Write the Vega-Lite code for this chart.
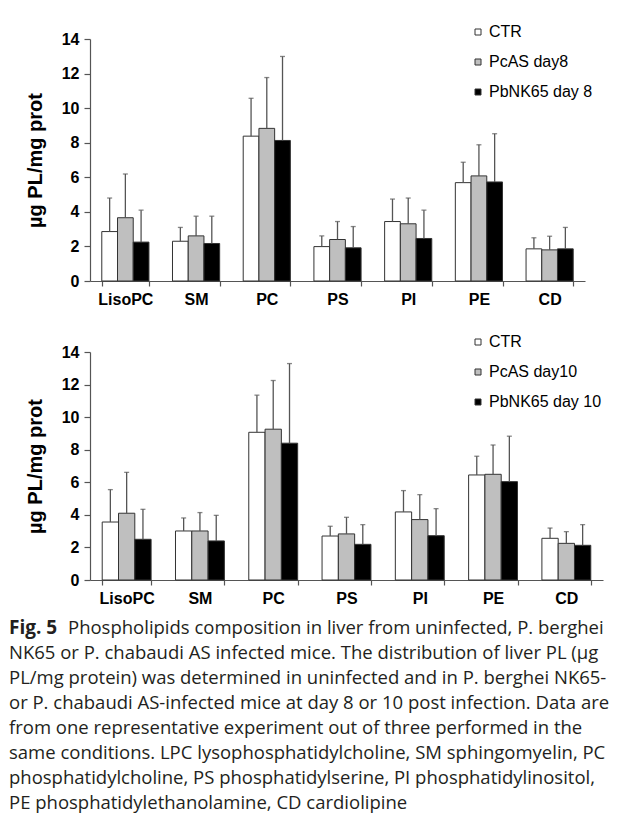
{
  "$schema": "https://vega.github.io/schema/vega-lite/v6.json",
  "background": "white",
  "padding": {"left": 9, "top": 24, "right": 2, "bottom": 4},
  "spacing": 9,
  "config": {
    "view": {"stroke": null},
    "font": "Liberation Sans",
    "axis": {
      "grid": false,
      "domainColor": "#555555",
      "tickColor": "#555555",
      "domainWidth": 1.2,
      "tickWidth": 1.2,
      "labelColor": "#000000",
      "labelFont": "Liberation Sans",
      "labelFontWeight": "bold",
      "labelFontSize": 16,
      "labelOverlap": false,
      "titleFont": "Liberation Sans",
      "titleFontWeight": "bold",
      "titleFontSize": 20,
      "titleColor": "#000000"
    },
    "legend": {
      "orient": "none",
      "title": null,
      "padding": 0,
      "symbolType": "square",
      "symbolSize": 36,
      "symbolStrokeColor": "#333333",
      "symbolStrokeWidth": 1,
      "labelFont": "Liberation Sans",
      "labelFontSize": 16,
      "labelColor": "#000000",
      "labelOffset": 3,
      "rowPadding": 14
    }
  },
  "datasets": {
    "d8": [
      {"lipid": "LisoPC", "group": "CTR", "mean": 2.86, "upper": 4.80},
      {"lipid": "LisoPC", "group": "PcAS day8", "mean": 3.66, "upper": 6.19},
      {"lipid": "LisoPC", "group": "PbNK65 day 8", "mean": 2.25, "upper": 4.10},
      {"lipid": "SM", "group": "CTR", "mean": 2.30, "upper": 3.10},
      {"lipid": "SM", "group": "PcAS day8", "mean": 2.61, "upper": 3.75},
      {"lipid": "SM", "group": "PbNK65 day 8", "mean": 2.17, "upper": 3.75},
      {"lipid": "PC", "group": "CTR", "mean": 8.38, "upper": 10.57},
      {"lipid": "PC", "group": "PcAS day8", "mean": 8.83, "upper": 11.77},
      {"lipid": "PC", "group": "PbNK65 day 8", "mean": 8.13, "upper": 12.99},
      {"lipid": "PS", "group": "CTR", "mean": 1.99, "upper": 2.61},
      {"lipid": "PS", "group": "PcAS day8", "mean": 2.40, "upper": 3.44},
      {"lipid": "PS", "group": "PbNK65 day 8", "mean": 1.92, "upper": 3.15},
      {"lipid": "PI", "group": "CTR", "mean": 3.44, "upper": 4.74},
      {"lipid": "PI", "group": "PcAS day8", "mean": 3.31, "upper": 4.80},
      {"lipid": "PI", "group": "PbNK65 day 8", "mean": 2.46, "upper": 4.10},
      {"lipid": "PE", "group": "CTR", "mean": 5.69, "upper": 6.87},
      {"lipid": "PE", "group": "PcAS day8", "mean": 6.08, "upper": 7.88},
      {"lipid": "PE", "group": "PbNK65 day 8", "mean": 5.73, "upper": 8.52},
      {"lipid": "CD", "group": "CTR", "mean": 1.86, "upper": 2.50},
      {"lipid": "CD", "group": "PcAS day8", "mean": 1.80, "upper": 2.59},
      {"lipid": "CD", "group": "PbNK65 day 8", "mean": 1.86, "upper": 3.10}
    ],
    "d10": [
      {"lipid": "LisoPC", "group": "CTR", "mean": 3.56, "upper": 5.55},
      {"lipid": "LisoPC", "group": "PcAS day10", "mean": 4.10, "upper": 6.61},
      {"lipid": "LisoPC", "group": "PbNK65 day 10", "mean": 2.50, "upper": 4.34},
      {"lipid": "SM", "group": "CTR", "mean": 3.01, "upper": 3.81},
      {"lipid": "SM", "group": "PcAS day10", "mean": 3.01, "upper": 4.14},
      {"lipid": "SM", "group": "PbNK65 day 10", "mean": 2.40, "upper": 3.97},
      {"lipid": "PC", "group": "CTR", "mean": 9.07, "upper": 11.35},
      {"lipid": "PC", "group": "PcAS day10", "mean": 9.26, "upper": 12.25},
      {"lipid": "PC", "group": "PbNK65 day 10", "mean": 8.40, "upper": 13.29},
      {"lipid": "PS", "group": "CTR", "mean": 2.70, "upper": 3.30},
      {"lipid": "PS", "group": "PcAS day10", "mean": 2.83, "upper": 3.85},
      {"lipid": "PS", "group": "PbNK65 day 10", "mean": 2.19, "upper": 3.40},
      {"lipid": "PI", "group": "CTR", "mean": 4.18, "upper": 5.49},
      {"lipid": "PI", "group": "PcAS day10", "mean": 3.71, "upper": 5.24},
      {"lipid": "PI", "group": "PbNK65 day 10", "mean": 2.72, "upper": 4.38},
      {"lipid": "PE", "group": "CTR", "mean": 6.45, "upper": 7.60},
      {"lipid": "PE", "group": "PcAS day10", "mean": 6.49, "upper": 8.29},
      {"lipid": "PE", "group": "PbNK65 day 10", "mean": 6.04, "upper": 8.83},
      {"lipid": "CD", "group": "CTR", "mean": 2.56, "upper": 3.19},
      {"lipid": "CD", "group": "PcAS day10", "mean": 2.25, "upper": 2.97},
      {"lipid": "CD", "group": "PbNK65 day 10", "mean": 2.13, "upper": 3.40}
    ],
    "caption": [
      {"line": 1, "text": "Phospholipids composition in liver from uninfected, P. berghei"},
      {"line": 2, "text": "NK65 or P. chabaudi AS infected mice. The distribution of liver PL (µg"},
      {"line": 3, "text": "PL/mg protein) was determined in uninfected and in P. berghei NK65-"},
      {"line": 4, "text": "or P. chabaudi AS-infected mice at day 8 or 10 post infection. Data are"},
      {"line": 5, "text": "from one representative experiment out of three performed in the"},
      {"line": 6, "text": "same conditions. LPC lysophosphatidylcholine, SM sphingomyelin, PC"},
      {"line": 7, "text": "phosphatidylcholine, PS phosphatidylserine, PI phosphatidylinositol,"},
      {"line": 8, "text": "PE phosphatidylethanolamine, CD cardiolipine"}
    ],
    "lead": [
      {"line": 1, "text": "Fig. 5"}
    ]
  },
  "vconcat": [
    {
      "spacing": 27,
      "resolve": {"scale": {"x": "independent", "xOffset": "independent", "y": "independent", "fill": "independent"}, "legend": {"fill": "independent"}, "axis": {"x": "independent", "y": "independent"}},
      "vconcat": [
        {
          "width": 495,
          "height": 242,
          "data": {"name": "d8"},
          "encoding": {
            "x": {"field": "lipid", "type": "nominal", "sort": ["LisoPC", "SM", "PC", "PS", "PI", "PE", "CD"], "scale": {"paddingInner": 0.333, "paddingOuter": 0.1667}, "axis": {"title": null, "labelAngle": 0, "tickBand": "extent", "tickSize": 5, "labelPadding": 5, "labelFontSize": 16}},
            "xOffset": {"field": "group", "type": "nominal", "sort": ["CTR", "PcAS day8", "PbNK65 day 8"], "scale": {"paddingInner": 0, "paddingOuter": 0}}
          },
          "layer": [
            {
              "mark": {"type": "bar", "stroke": "#333333", "strokeWidth": 1},
              "encoding": {
                "y": {"field": "mean", "type": "quantitative", "title": "µg PL/mg prot", "scale": {"domain": [0, 14], "nice": false}, "axis": {"values": [0, 2, 4, 6, 8, 10, 12, 14], "tickSize": 6, "labelPadding": 5, "titlePadding": 16}},
                "fill": {"field": "group", "type": "nominal", "sort": ["CTR", "PcAS day8", "PbNK65 day 8"], "scale": {"domain": ["CTR", "PcAS day8", "PbNK65 day 8"], "range": ["#ffffff", "#bfbfbf", "#000000"]}, "legend": {"legendX": 380, "legendY": -15}}
              }
            },
            {
              "mark": {"type": "rule", "color": "#555555", "strokeWidth": 1.3},
              "encoding": {
                "y": {"field": "mean", "type": "quantitative", "title": "µg PL/mg prot", "axis": {"values": [0, 2, 4, 6, 8, 10, 12, 14], "tickSize": 6, "labelPadding": 5, "titlePadding": 16}},
                "y2": {"field": "upper"}
              }
            },
            {
              "mark": {"type": "tick", "color": "#555555", "thickness": 1.3, "size": 5},
              "encoding": {
                "y": {"field": "upper", "type": "quantitative", "title": "µg PL/mg prot", "axis": {"values": [0, 2, 4, 6, 8, 10, 12, 14], "tickSize": 6, "labelPadding": 5, "titlePadding": 16}}
              }
            }
          ]
        },
        {
          "width": 513,
          "height": 228,
          "data": {"name": "d10"},
          "encoding": {
            "x": {"field": "lipid", "type": "nominal", "sort": ["LisoPC", "SM", "PC", "PS", "PI", "PE", "CD"], "scale": {"paddingInner": 0.333, "paddingOuter": 0.1667}, "axis": {"title": null, "labelAngle": 0, "tickBand": "extent", "tickSize": 5, "labelPadding": 5, "labelFontSize": 16}},
            "xOffset": {"field": "group", "type": "nominal", "sort": ["CTR", "PcAS day10", "PbNK65 day 10"], "scale": {"paddingInner": 0, "paddingOuter": 0}}
          },
          "layer": [
            {
              "mark": {"type": "bar", "stroke": "#333333", "strokeWidth": 1},
              "encoding": {
                "y": {"field": "mean", "type": "quantitative", "title": "µg PL/mg prot", "scale": {"domain": [0, 14], "nice": false}, "axis": {"values": [0, 2, 4, 6, 8, 10, 12, 14], "tickSize": 6, "labelPadding": 5, "titlePadding": 16}},
                "fill": {"field": "group", "type": "nominal", "sort": ["CTR", "PcAS day10", "PbNK65 day 10"], "scale": {"domain": ["CTR", "PcAS day10", "PbNK65 day 10"], "range": ["#ffffff", "#bfbfbf", "#000000"]}, "legend": {"legendX": 380, "legendY": -18}}
              }
            },
            {
              "mark": {"type": "rule", "color": "#555555", "strokeWidth": 1.3},
              "encoding": {
                "y": {"field": "mean", "type": "quantitative", "title": "µg PL/mg prot", "axis": {"values": [0, 2, 4, 6, 8, 10, 12, 14], "tickSize": 6, "labelPadding": 5, "titlePadding": 16}},
                "y2": {"field": "upper"}
              }
            },
            {
              "mark": {"type": "tick", "color": "#555555", "thickness": 1.3, "size": 5},
              "encoding": {
                "y": {"field": "upper", "type": "quantitative", "title": "µg PL/mg prot", "axis": {"values": [0, 2, 4, 6, 8, 10, 12, 14], "tickSize": 6, "labelPadding": 5, "titlePadding": 16}}
              }
            }
          ]
        }
      ]
    },
    {
      "width": 500,
      "height": {"step": 25},
      "layer": [
        {
          "data": {"name": "caption"},
          "transform": [{"filter": "datum.line > 1"}],
          "mark": {"type": "text", "align": "left", "baseline": "middle", "font": "Open Sans", "fontSize": 18.5, "color": "#231f20", "dx": -81},
          "encoding": {
            "y": {"field": "line", "type": "ordinal", "axis": null, "scale": {"domain": [1, 2, 3, 4, 5, 6, 7, 8]}},
            "x": {"value": 0},
            "text": {"field": "text"}
          }
        },
        {
          "data": {"name": "caption"},
          "transform": [{"filter": "datum.line == 1"}],
          "mark": {"type": "text", "align": "left", "baseline": "middle", "font": "Open Sans", "fontSize": 18.5, "color": "#231f20", "dx": -22},
          "encoding": {
            "y": {"field": "line", "type": "ordinal", "axis": null, "scale": {"domain": [1, 2, 3, 4, 5, 6, 7, 8]}},
            "x": {"value": 0},
            "text": {"field": "text"}
          }
        },
        {
          "data": {"name": "lead"},
          "mark": {"type": "text", "align": "left", "baseline": "middle", "font": "Open Sans", "fontSize": 19, "fontWeight": "bold", "color": "#231f20", "dx": -81},
          "encoding": {
            "y": {"field": "line", "type": "ordinal", "axis": null, "scale": {"domain": [1, 2, 3, 4, 5, 6, 7, 8]}},
            "x": {"value": 0},
            "text": {"field": "text"}
          }
        }
      ]
    }
  ]
}
